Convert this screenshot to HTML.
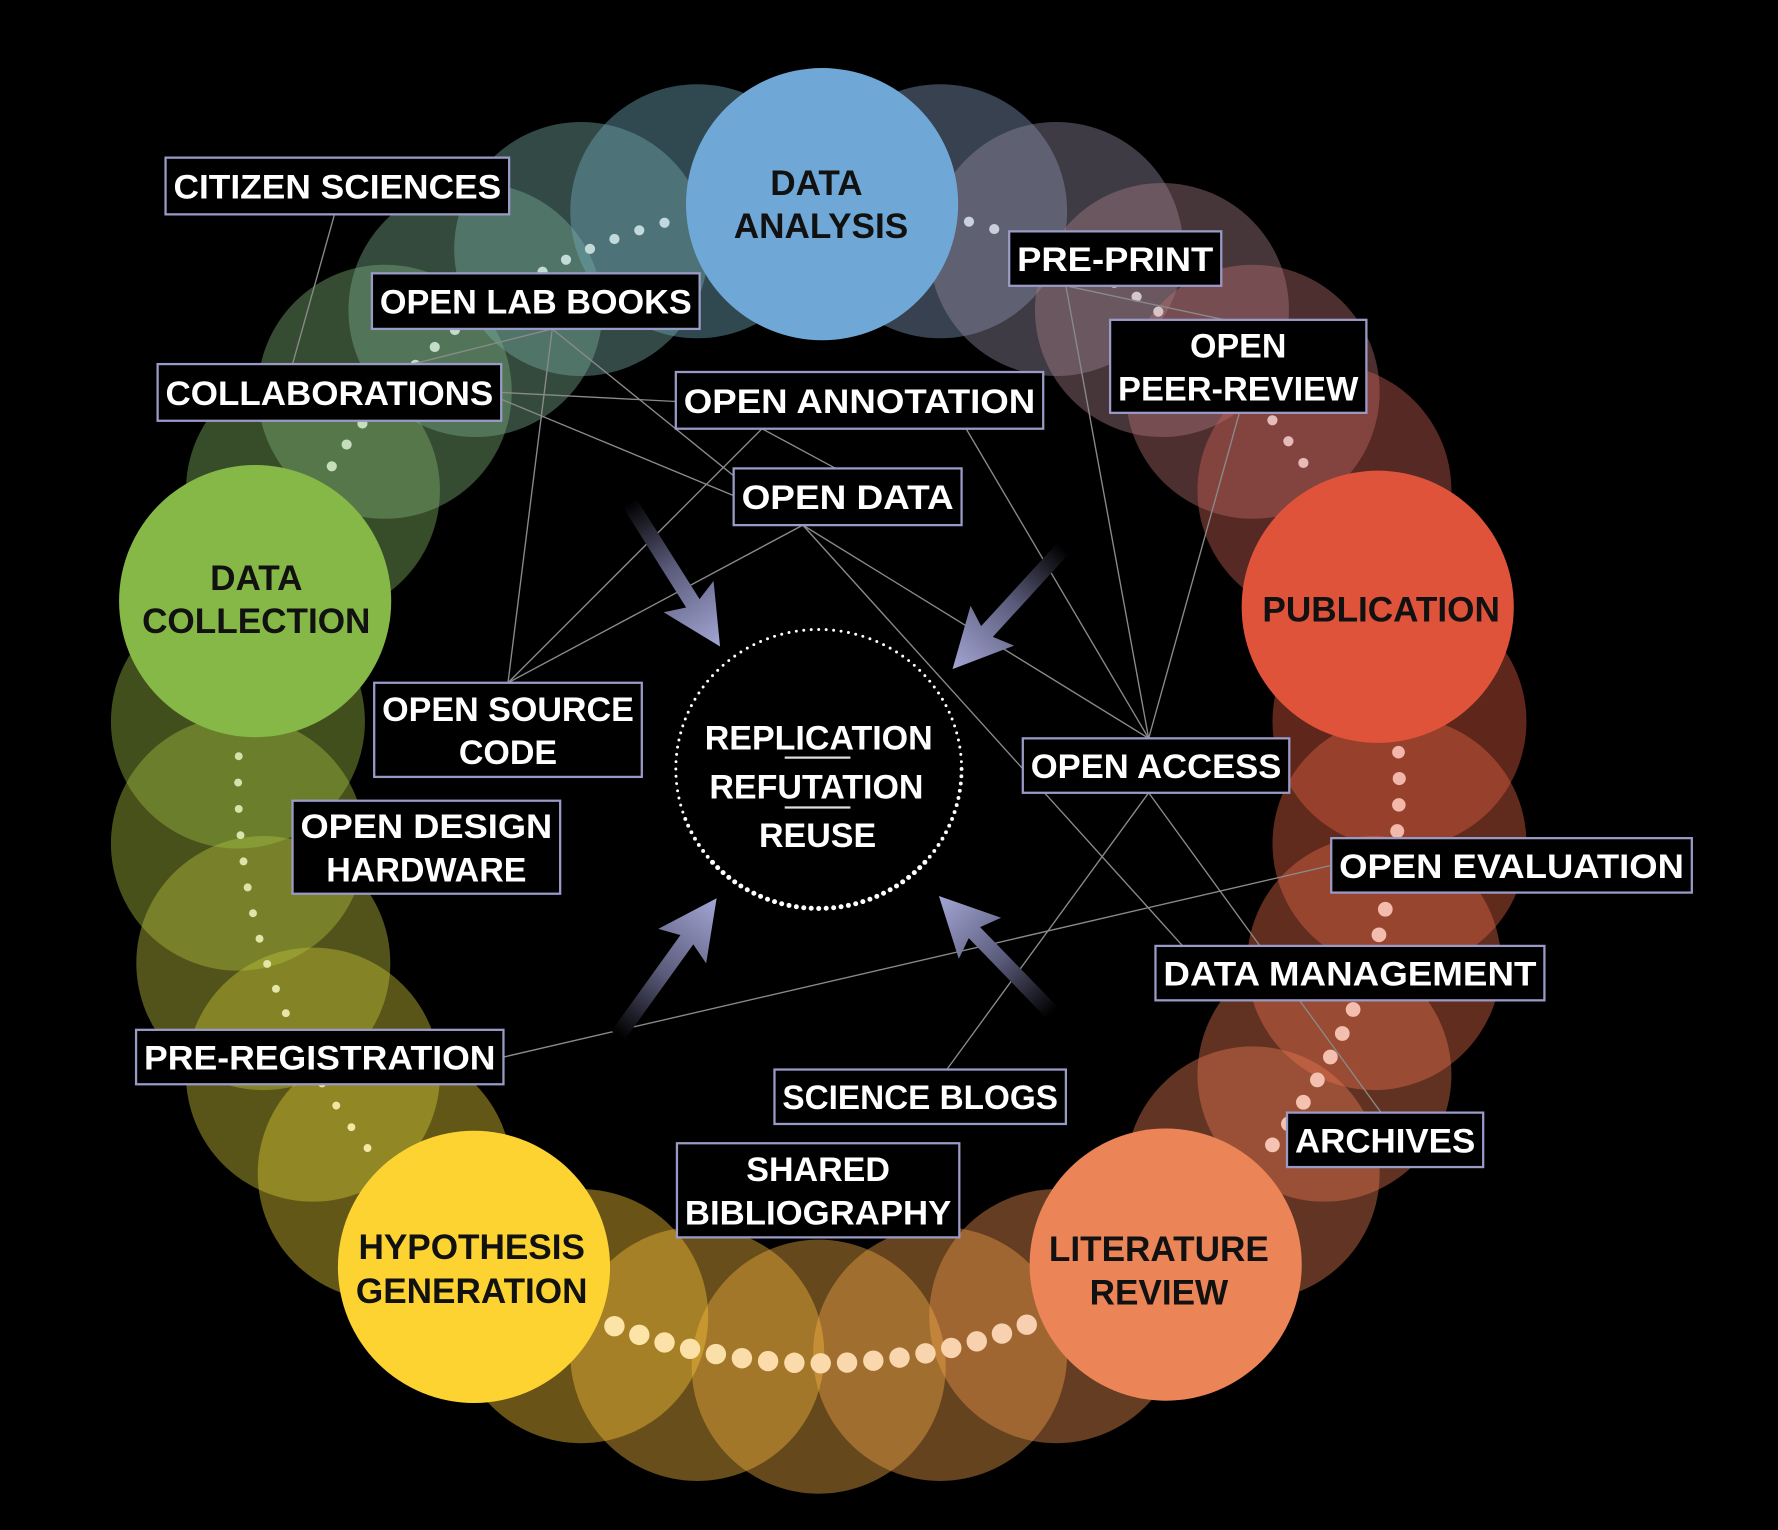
<!DOCTYPE html>
<html><head><meta charset="utf-8"><style>
html,body{margin:0;padding:0;background:#000;}
svg{display:block;}
text{font-family:"Liberation Sans",sans-serif;font-weight:bold;}
</style></head><body>
<svg id="s" xmlns="http://www.w3.org/2000/svg" width="1778" height="1530" viewBox="0 0 1568 1349" preserveAspectRatio="none">
<defs>
<linearGradient id="g1" x1="0" y1="0" x2="1" y2="0"><stop offset="0" stop-color="#000"/><stop offset="0.45" stop-color="#5a5a7a"/><stop offset="1" stop-color="#a3a6d4"/></linearGradient>
</defs>
<rect width="1568" height="1349" fill="#000"/>
<g id="bg"></g><g id="dots"></g><g id="main"></g>
<g id="lines" stroke="#8a8a8a" stroke-width="1.2" fill="none">
<line x1="295" y1="189" x2="258" y2="321"/>
<line x1="487" y1="290" x2="448" y2="602"/>
<line x1="487" y1="290" x2="660" y2="430"/>
<line x1="487" y1="290" x2="360" y2="322"/>
<line x1="442" y1="346" x2="596" y2="354"/>
<line x1="442" y1="352" x2="647" y2="437"/>
<line x1="672" y1="378" x2="448" y2="602"/>
<line x1="672" y1="378" x2="737" y2="413"/>
<line x1="852" y1="378" x2="1013" y2="651"/>
<line x1="708" y1="463" x2="448" y2="602"/>
<line x1="708" y1="463" x2="1013" y2="651"/>
<line x1="708" y1="463" x2="1043" y2="834"/>
<line x1="940" y1="252" x2="1013" y2="651"/>
<line x1="940" y1="252" x2="1080" y2="282"/>
<line x1="1093" y1="364" x2="1013" y2="651"/>
<line x1="1013" y1="699" x2="835" y2="943"/>
<line x1="1013" y1="699" x2="1218" y2="981"/>
<line x1="444" y1="932" x2="1174" y2="763"/>
</g>
<g id="arrows"></g>
<g id="center"></g>
<g id="labels"></g>
</svg>
<script>
var NS="http://www.w3.org/2000/svg";
function el(p,t,a,txt){var e=document.createElementNS(NS,t);for(var k in a)e.setAttribute(k,a[k]);if(txt)e.textContent=txt;document.getElementById(p).appendChild(e);return e;}
var C=[722,690],R=515;
var mains=[[0,"#6fa8d6"],[72,"#e0533b"],[144,"#eb8558"],[216,"#fdd332"],[288,"#86b847"],[360,"#6fa8d6"]];
function hex(h){return [parseInt(h.substr(1,2),16),parseInt(h.substr(3,2),16),parseInt(h.substr(5,2),16)];}
function col(a){a=((a%360)+360)%360;for(var i=0;i<5;i++){if(a>=mains[i][0]&&a<=mains[i+1][0]){var t=(a-mains[i][0])/72,c1=hex(mains[i][1]),c2=hex(mains[i+1][1]);return [0,1,2].map(function(j){return Math.round(c1[j]+(c2[j]-c1[j])*t);});}}}
function pos(a,r){var rad=a*Math.PI/180;return [C[0]+r*Math.sin(rad),C[1]-r*Math.cos(rad)];}
for(var a=0;a<360;a+=12){if(a%72==0)continue;var p=pos(a,R),c=col(a);
el("bg","circle",{cx:p[0],cy:p[1],r:112,fill:"rgb("+c+")","fill-opacity":0.42});}
for(var s=0;s<5;s++){var base=s*72;for(var d=15;d<=57;d+=2.6){var a=base+d,p=pos(a,512),c=col(a);
var y=p[1];var rr=3.5+6*Math.max(0,(y-400)/750);if(a>100&&a<160)rr=6.5;if(a>220&&a<290)rr=3.5;if(a>290||a<60)rr=4.5;if(a>144&&a<216)rr=9;
var lc=c.map(function(v){return Math.round(v+(255-v)*0.55);});
el("dots","circle",{cx:p[0],cy:p[1],r:rr,fill:"rgb("+lc+")"});}}
[[725,180,"#6fa8d6"],[1215,535,"#e0533b"],[1028,1115,"#eb8558"],[418,1117,"#fdd332"],[225,530,"#86b847"]].forEach(function(m){el("main","circle",{cx:m[0],cy:m[1],r:120,fill:m[2]});});
function mt(x,y,t){el("main","text",{x:x,y:y,"text-anchor":"middle","font-size":31,fill:"#111"},t);}
mt(720,172,"DATA");mt(724,210,"ANALYSIS");mt(1218,548,"PUBLICATION");mt(1022,1112,"LITERATURE");mt(1022,1150,"REVIEW");
mt(416,1110,"HYPOTHESIS");mt(416,1149,"GENERATION");mt(226,520,"DATA");mt(226,558,"COLLECTION");
function arrow(x1,y1,x2,y2){var ang=Math.atan2(y2-y1,x2-x1)*180/Math.PI,L=Math.hypot(x2-x1,y2-y1);
var g=el("arrows","g",{transform:"translate("+x1+","+y1+") rotate("+ang+")"});
var p=document.createElementNS(NS,"polygon");p.setAttribute("points","0,-7 "+(L-45)+",-7 "+(L-52)+",-26 "+L+",0 "+(L-52)+",26 "+(L-45)+",7 0,7");p.setAttribute("fill","url(#g1)");g.appendChild(p);}
arrow(555,443,635,570);arrow(938,483,840,590);arrow(545,913,632,792);arrow(928,893,828,790);
for(var i=0;i<120;i++){var a=i*3,rad=a*Math.PI/180,x=722+126*Math.cos(rad),y=678+123*Math.sin(rad);
var big=(a>40&&a<140)?2.2:(a>=140&&a<160)?1.7:1.3;if(a>=0&&a<=40)big=1.7;
el("center","circle",{cx:x,cy:y,r:big,fill:"#fff"});}
function ct(x,y,t){el("center","text",{x:x,y:y,"text-anchor":"middle","font-size":30,fill:"#fff"},t);}
ct(722,661,"REPLICATION");ct(720,704,"REFUTATION");ct(721,747,"REUSE");
el("center","line",{x1:692,y1:668,x2:750,y2:668,stroke:"#ddd","stroke-width":2});
el("center","line",{x1:692,y1:712,x2:750,y2:712,stroke:"#ddd","stroke-width":2});
var L=[[146,139,449,189,["CITIZEN SCIENCES"]],[328,241,617,290,["OPEN LAB BOOKS"]],[139,321,442,371,["COLLABORATIONS"]],
[596,328,920,378,["OPEN ANNOTATION"]],[647,413,848,463,["OPEN DATA"]],[890,204,1077,252,["PRE-PRINT"]],
[979,282,1205,364,["OPEN","PEER-REVIEW"]],[330,602,566,685,["OPEN SOURCE","CODE"]],[258,706,494,788,["OPEN DESIGN","HARDWARE"]],
[902,651,1137,699,["OPEN ACCESS"]],[1174,739,1492,787,["OPEN EVALUATION"]],[1019,834,1362,882,["DATA MANAGEMENT"]],
[120,908,444,956,["PRE-REGISTRATION"]],[683,943,940,991,["SCIENCE BLOGS"]],[597,1008,846,1091,["SHARED","BIBLIOGRAPHY"]],[1135,981,1308,1029,["ARCHIVES"]]];
L.forEach(function(b){el("labels","rect",{x:b[0],y:b[1],width:b[2]-b[0],height:b[3]-b[1],fill:"#000",stroke:"#9a9ac6","stroke-width":2});
var cx=(b[0]+b[2])/2,w=b[2]-b[0]-14;
if(b[4].length==1){el("labels","text",{x:cx,y:(b[1]+b[3])/2+11,"text-anchor":"middle","font-size":30,fill:"#fff",textLength:w,lengthAdjust:"spacingAndGlyphs"},b[4][0]);}
else{var m=(b[1]+b[3])/2;b[4].forEach(function(t,i){var a={x:cx,y:m-19+11+i*38,"text-anchor":"middle","font-size":30,fill:"#fff"};if(t.length>8){a.textLength=w;a.lengthAdjust="spacingAndGlyphs";}el("labels","text",a,t);});}
});
</script>
</body></html>
